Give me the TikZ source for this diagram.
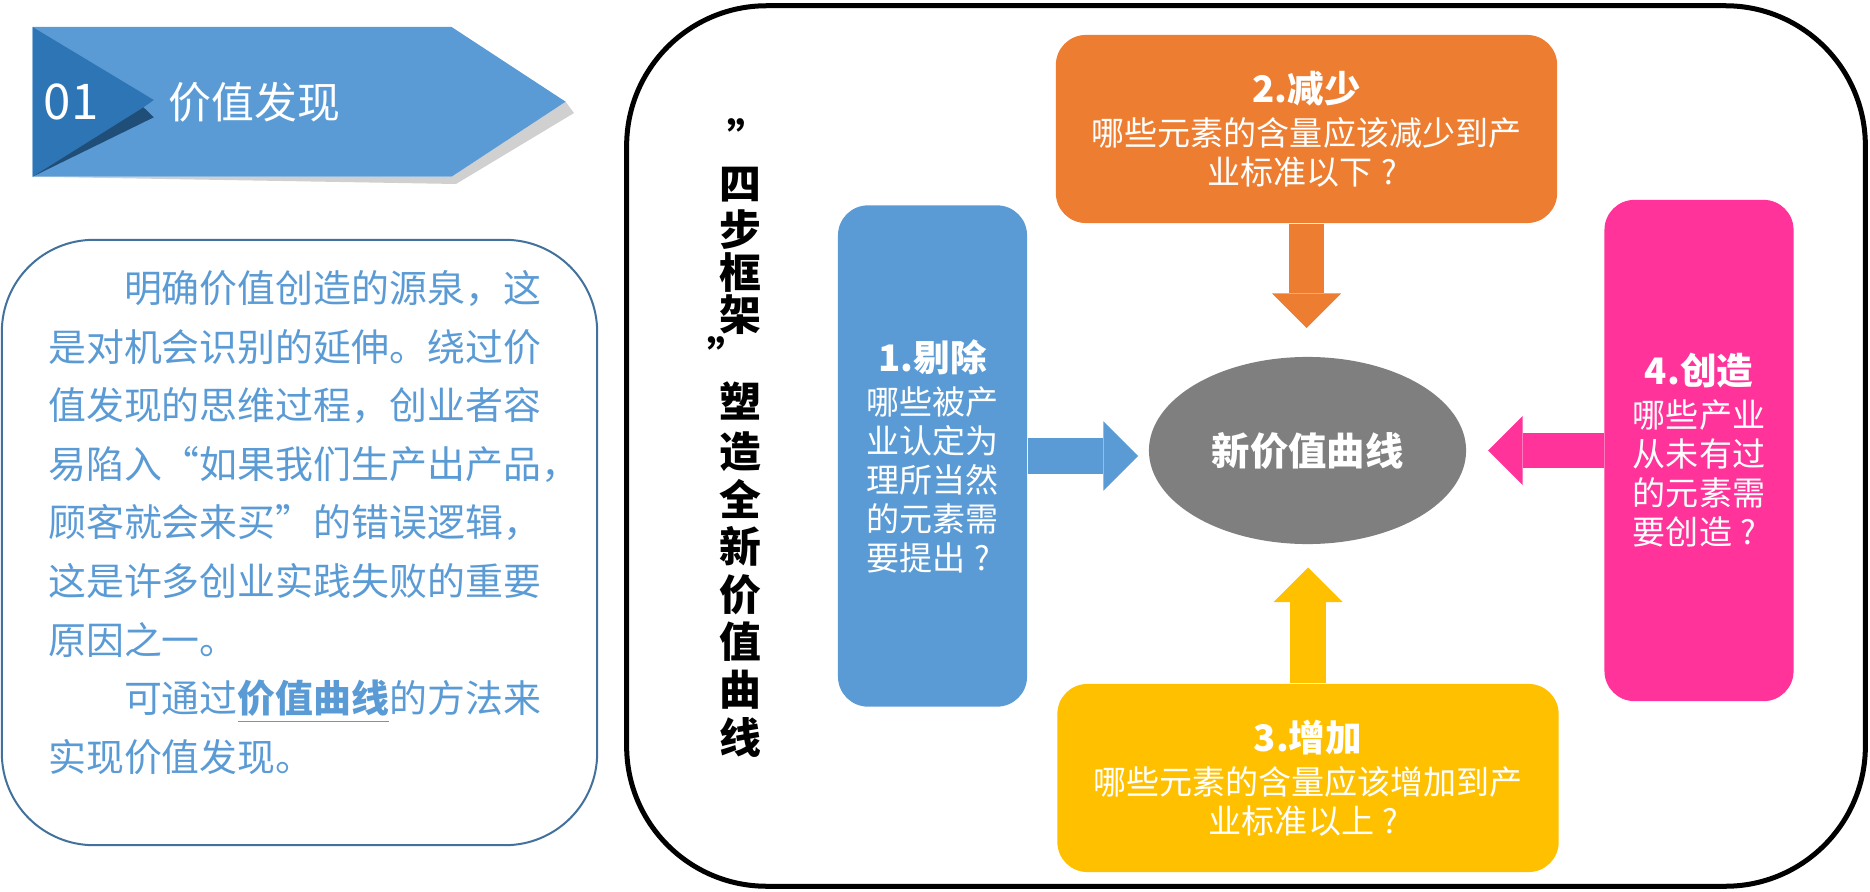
\documentclass[tikz,border=0pt]{standalone}
\usepackage{fontspec}
\setmainfont{Noto Sans CJK SC}
\usetikzlibrary{shapes.geometric,arrows.meta}

\definecolor{bannerblue}{HTML}{5B9BD5}
\definecolor{bannermid}{HTML}{2E75B6}
\definecolor{bannerdark}{HTML}{1F4E79}
\definecolor{shadowgrey}{HTML}{D0D0D0}
\definecolor{boxline}{HTML}{41719C}
\definecolor{textblue}{HTML}{5B9BD5}
\definecolor{cardblue}{HTML}{5B9BD5}
\definecolor{cardorange}{HTML}{ED7D31}
\definecolor{cardyellow}{HTML}{FFC000}
\definecolor{cardpink}{HTML}{FF3399}
\definecolor{ellgrey}{HTML}{7F7F7F}

\tikzset{
  stepcard/.style={rounded corners=0.3cm, inner sep=0pt, align=center, text=white,
    font=\fontsize{9.4pt}{11.1pt}\selectfont},
  tallcard/.style={stepcard, minimum width=1.89cm, minimum height=5.01cm},
  widecard/.style={stepcard, minimum width=5.01cm, minimum height=1.88cm},
  fatarrow/.style={line width=0.355cm, -{Triangle[length=0.345cm,width=0.69cm,line width=0pt]}},
  descline/.style={anchor=base west, inner sep=0pt, text=textblue,
    font=\fontsize{10.78pt}{16pt}\selectfont},
  vtext/.style={inner sep=0pt, font=\fontsize{11.9pt}{14pt}\selectfont\bfseries},
}
\newcommand{\cardtitle}[1]{{\fontsize{10.4pt}{12pt}\selectfont\bfseries #1}\\[0.04cm]}
\newcommand{\qmark}{\makebox[1em]{?}}

\begin{document}
\begin{tikzpicture}[x=0.01cm, y=-0.01cm]
	\useasboundingbox (0,0) rectangle (1870,891);

	% banner
	\fill[shadowgrey] (32.5,176.7) -- (456,184) -- (574,113) -- (565.6,101.7) -- (451.6,176.7) -- cycle;
	\fill[bannerblue] (32.5,27) -- (451.6,27) -- (565.6,101.7) -- (451.6,176.7) -- (32.5,176.7) -- cycle;
	\fill[bannermid] (32.5,27) -- (153.8,100) -- (143.5,107.3) -- (32.5,176.7) -- cycle;
	\fill[bannerdark] (143.5,107.3) -- (153.8,117.3) -- (32.5,176.7) -- cycle;
	\node[anchor=base west, inner sep=0pt, text=white, font=\fontsize{14pt}{16pt}\selectfont] (num) at (43,120) {01};
	\node[anchor=base west, inner sep=0pt, text=white, font=\fontsize{12.2pt}{14pt}\selectfont] (topic) at (168,119) {价值发现};

	% description
	\node[draw=boxline, line width=0.02cm, rounded corners=0.92cm, minimum width=5.95cm, minimum height=6.05cm] (desc) at (299.5,542.5) {};
	\foreach \txt [count=\i from 0] in {{\hspace*{2em}明确价值创造的源泉，这}, {是对机会识别的延伸。绕过价}, {值发现的思维过程，创业者容},
		{易陷入“如果我们生产出产品，}, {顾客就会来买”的错误逻辑，}, {这是许多创业实践失败的重要}, {原因之一。},
		{\hspace*{2em}可通过\textbf{\underline{价值曲线}}的方法来}, {实现价值发现。}}
		\node[descline] (line\i) at (47.5,{302.4+58.6*\i}) {\txt};

	% frame
	\node[draw, line width=0.05cm, rounded corners=1.4cm, minimum width=12.38cm, minimum height=8.8cm] (frame) at (1246,446) {};

	\node[vtext] (q1) at (748,137) {”};
	\node[vtext] (q2) at (728,355) {”};
	\foreach \ch/\yy [count=\i] in {四/185, 步/230, 框/272.5, 架/314.5, 塑/401, 造/451.5, 全/498.5, 新/546.5, 价/594.5, 值/642, 曲/690, 线/738}
		\node[vtext] (v\i) at (740,\yy) {\ch};

	% four steps
	\node[tallcard, fill=cardblue] (cut) at (932.5,456) {\cardtitle{1.剔除}哪些被产\\业认定为\\理所当然\\的元素需\\要提出\qmark};
	\node[widecard, fill=cardorange] (reduce) at (1306.5,129) {\cardtitle{2.减少}哪些元素的含量应该减少到产\\业标准以下\qmark};
	\node[widecard, fill=cardyellow] (raise) at (1308,778) {\cardtitle{3.增加}哪些元素的含量应该增加到产\\业标准以上\qmark};
	\node[tallcard, fill=cardpink] (create) at (1699,450.5) {\cardtitle{4.创造}哪些产业\\从未有过\\的元素需\\要创造\qmark};

	\node[ellipse, fill=ellgrey, minimum width=3.17cm, minimum height=1.87cm, inner sep=0pt, text=white,
		font=\fontsize{10.9pt}{13pt}\selectfont\bfseries] (curve) at (1307.5,450.5) {新价值曲线};

	\coordinate (cuttip) at (1138,456);
	\coordinate (reducetip) at (1306.5,328);
	\coordinate (raisetip) at (1308,567.5);
	\coordinate (createtip) at (1488,450.5);
	\draw[fatarrow, cardblue] (cut.east) -- (cuttip);
	\draw[fatarrow, cardorange] (reduce.south) -- (reducetip);
	\draw[fatarrow, cardyellow] (raise.north) -- (raisetip);
	\draw[fatarrow, cardpink] (create.west) -- (createtip);
\end{tikzpicture}
\end{document}
